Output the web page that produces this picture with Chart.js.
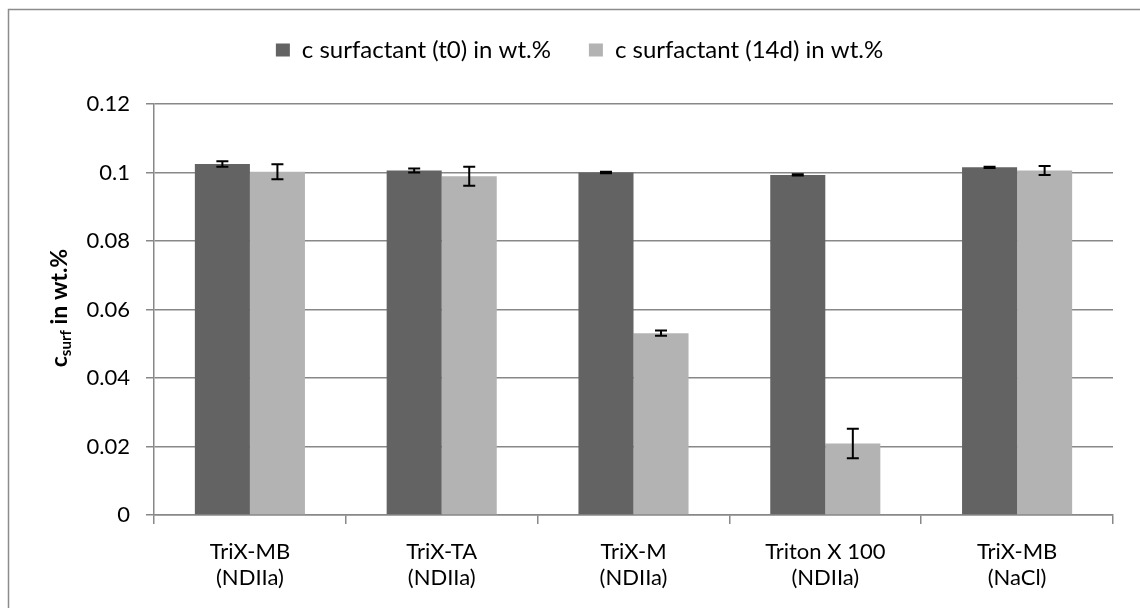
<!DOCTYPE html>
<html lang="en">
<head>
    <meta charset="UTF-8">
    <title>Surfactant concentration</title>
    <script src="https://cdn.jsdelivr.net/npm/chart.js"></script>
    <style>
        html, body { margin: 0; padding: 0; background: #fff; }
        .chart-box { position: relative; width: 1140px; height: 608px; }
    </style>
</head>
<body>
    <div class="chart-box">
        <canvas id="surfChart"></canvas>
    </div>

    <script>
        // Samples and measured concentrations (wt.%)
        const categories = [
            ['TriX-MB', '(NDIIa)'],
            ['TriX-TA', '(NDIIa)'],
            ['TriX-M', '(NDIIa)'],
            ['Triton X 100', '(NDIIa)'],
            ['TriX-MB', '(NaCl)']
        ];
        const seriesNames = ['c surfactant (t0) in wt.%', 'c surfactant (14d) in wt.%'];
        const conc_t0 = [0.1025, 0.1006, 0.1000, 0.0993, 0.1015];
        const err_t0 = [0.0008, 0.0006, 0.0002, 0.0002, 0.0002];
        const conc_14d = [0.1002, 0.0989, 0.0531, 0.0209, 0.1006];
        const err_14d = [0.0022, 0.0028, 0.0008, 0.0043, 0.0013];
        const yTicks = [0, 0.02, 0.04, 0.06, 0.08, 0.1, 0.12];

        const FONT = 'Lato';
        const GRID = '#888888';

        // outer frame around the whole chart
        const frame = {
            id: 'frame',
            beforeDraw(chart) {
                const ctx = chart.ctx;
                ctx.save();
                ctx.strokeStyle = '#8c8c8c';
                ctx.lineWidth = 1.5;
                ctx.strokeRect(8.5, 9.5, 1140, 640);
                ctx.restore();
            }
        };

        // fixed legend band height, legend nudged a bit to the right
        const legendBand = {
            id: 'legendBand',
            beforeInit(chart) {
                const legend = chart.legend;
                const fit = legend.fit;
                const draw = legend.draw;
                legend.fit = function () {
                    fit.call(this);
                    this.height = 104;
                };
                legend.draw = function () {
                    this.ctx.save();
                    this.ctx.translate(23, 0);
                    draw.call(this);
                    this.ctx.restore();
                };
            }
        };

        // +/- error whiskers on top of each bar
        const errorBars = {
            id: 'errorBars',
            afterDatasetsDraw(chart) {
                const ctx = chart.ctx;
                const y = chart.scales.y;
                const errs = [err_t0, err_14d];
                ctx.save();
                ctx.strokeStyle = '#000';
                ctx.lineWidth = 2;
                chart.data.datasets.forEach((ds, di) => {
                    chart.getDatasetMeta(di).data.forEach((bar, i) => {
                        const v = ds.data[i], e = errs[di][i];
                        const top = y.getPixelForValue(v + e);
                        const bot = y.getPixelForValue(v - e);
                        ctx.beginPath();
                        ctx.moveTo(bar.x, top); ctx.lineTo(bar.x, bot);
                        ctx.moveTo(bar.x - 6, top); ctx.lineTo(bar.x + 6, top);
                        ctx.moveTo(bar.x - 6, bot); ctx.lineTo(bar.x + 6, bot);
                        ctx.stroke();
                    });
                });
                ctx.restore();
            }
        };

        // rotated y axis title with subscript
        const yTitle = {
            id: 'yTitle',
            afterDraw(chart) {
                const ctx = chart.ctx;
                ctx.save();
                ctx.translate(60, 308);
                ctx.rotate(-Math.PI / 2);
                ctx.fillStyle = '#000';
                ctx.textBaseline = 'middle';
                const big = 'bold 23px ' + FONT, small = 'bold 15px ' + FONT;
                ctx.font = big;
                const w1 = ctx.measureText('c').width;
                const w3 = ctx.measureText(' in wt.%').width;
                ctx.font = small;
                const w2 = ctx.measureText('surf').width;
                let x = -(w1 + w2 + w3) / 2;
                ctx.font = big;
                ctx.fillText('c', x, 0); x += w1;
                ctx.font = small;
                ctx.fillText('surf', x, 6); x += w2;
                ctx.font = big;
                ctx.fillText(' in wt.%', x, 0);
                ctx.restore();
            }
        };

        new Chart(document.getElementById('surfChart'), {
            type: 'bar',
            data: {
                labels: categories,
                datasets: [{
                    label: seriesNames[0],
                    data: conc_t0,
                    backgroundColor: '#636363'
                }, {
                    label: seriesNames[1],
                    data: conc_14d,
                    backgroundColor: '#b3b3b3'
                }]
            },
            options: {
                responsive: true,
                maintainAspectRatio: false,
                animation: false,
                layout: { padding: { left: 0, right: 27, top: 0, bottom: 0 } },
                datasets: {
                    bar: { categoryPercentage: 0.574, barPercentage: 1.0 }
                },
                plugins: {
                    legend: {
                        position: 'top',
                        labels: {
                            font: { family: FONT, size: 24 },
                            color: '#000',
                            boxWidth: 14,
                            boxHeight: 13,
                            padding: 38
                        }
                    },
                    tooltip: { enabled: false }
                },
                scales: {
                    x: {
                        afterFit: s => { s.height = 93; },
                        grid: {
                            offset: true,
                            drawOnChartArea: false,
                            color: GRID,
                            lineWidth: 1.5,
                            tickLength: 9
                        },
                        border: { color: GRID, width: 1.5 },
                        ticks: {
                            font: { family: FONT, size: 22, lineHeight: 1.22 },
                            color: '#000',
                            padding: 14,
                            maxRotation: 0
                        }
                    },
                    y: {
                        min: 0,
                        max: 0.12,
                        afterFit: s => { s.width = 154; },
                        afterBuildTicks: s => { s.ticks = yTicks.map(v => ({ value: v })); },
                        grid: {
                            color: GRID,
                            lineWidth: 1.5,
                            tickLength: 8
                        },
                        border: { color: GRID, width: 1.5 },
                        ticks: {
                            font: { family: FONT, size: 22 },
                            color: '#000',
                            padding: 16,
                            callback: v => String(Math.round(v * 100) / 100)
                        }
                    }
                }
            },
            plugins: [frame, legendBand, errorBars, yTitle]
        });
    </script>
</body>
</html>
